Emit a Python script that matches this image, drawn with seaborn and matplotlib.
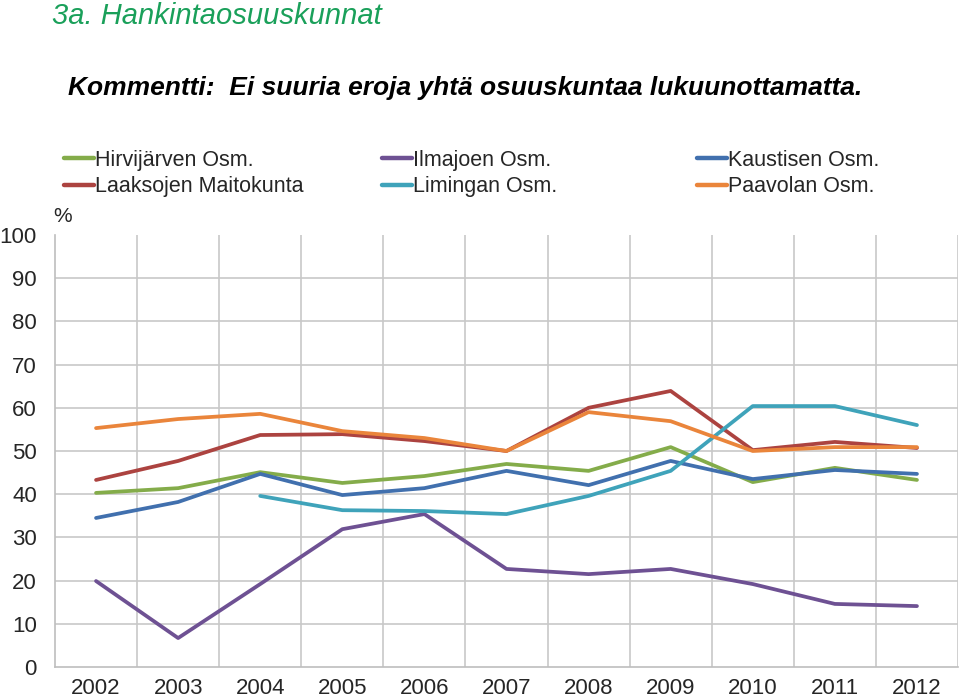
import numpy as np
import pandas as pd
import matplotlib
matplotlib.use("Agg")
import matplotlib.pyplot as plt
import seaborn as sns
from matplotlib.lines import Line2D

years = list(range(2002, 2013))
hirvijarven = [40.3, 41.4, 45.1, 42.6, 44.2, 47.0, 45.4, 50.9, 42.8, 46.1, 43.3]
ilmajoen = [19.9, 6.7, 19.2, 31.9, 35.4, 22.7, 21.5, 22.7, 19.2, 14.6, 14.1]
kaustisen = [34.5, 38.2, 44.7, 39.8, 41.4, 45.4, 42.1, 47.7, 43.5, 45.6, 44.7]
laaksojen = [43.3, 47.7, 53.7, 53.9, 52.3, 50.0, 60.0, 63.9, 50.2, 52.1, 50.7]
limingan = [np.nan, np.nan, 39.6, 36.3, 36.1, 35.4, 39.6, 45.4, 60.4, 60.4, 56.0]
paavolan = [55.3, 57.4, 58.6, 54.6, 53.0, 50.0, 59.0, 56.9, 50.0, 50.9, 50.9]

names = ["Hirvijärven Osm.", "Ilmajoen Osm.", "Kaustisen Osm.",
         "Laaksojen Maitokunta", "Limingan Osm.", "Paavolan Osm."]
series = [hirvijarven, ilmajoen, kaustisen, laaksojen, limingan, paavolan]
colors = ["#84AC4A", "#6E5193", "#4170AE", "#AC4340", "#3FA3BA", "#EA853B"]

rows = []
for n, vals in zip(names, series):
    for y, v in zip(years, vals):
        rows.append({"year": y, "value": v, "name": n})
df = pd.DataFrame(rows).dropna()

sns.set_style("white")
plt.rcParams["font.family"] = ["Liberation Sans", "DejaVu Sans"]

fig = plt.figure(figsize=(9.6, 6.98), dpi=100)
ax = fig.add_axes([55/960, 1-667/698, (958-55)/960, (667-235)/698])

sns.lineplot(data=df, x="year", y="value", hue="name", palette=dict(zip(names, colors)),
             hue_order=names, linewidth=2.7, ax=ax, legend=False, sort=True)

ax.set_xlim(2001.5, 2012.5)
ax.set_ylim(0, 100)
ax.set_xticks(years)
ax.set_xticklabels([str(y) for y in years], fontsize=16)
ax.set_yticks(range(0, 101, 10))
ax.set_yticklabels([str(v) for v in range(0, 101, 10)], fontsize=16)
ax.set_xlabel("")
ax.set_ylabel("")
ax.tick_params(axis="both", length=0)
ax.tick_params(axis="x", pad=8)
ax.tick_params(axis="y", pad=13)

for v in range(10, 100, 10):
    ax.axhline(v, color="#C8C8C8", lw=1.2, zorder=0)
for x in np.arange(2002.5, 2012.6, 1):
    ax.axvline(x, color="#C8C8C8", lw=1.2, zorder=0)

for s in ["top", "right"]:
    ax.spines[s].set_visible(False)
for s in ["left", "bottom"]:
    ax.spines[s].set_color("#BEBEBE")
    ax.spines[s].set_linewidth(1.2)

fig.text(52/960, 1-16/698, "3a. Hankintaosuuskunnat", color="#1AA05A", fontsize=21,
         style="italic", va="center", ha="left")
fig.text(68/960, 1-88/698, "Kommentti:  Ei suuria eroja yhtä osuuskuntaa lukuunottamatta.",
         color="black", fontsize=19, style="italic", weight="bold", va="center", ha="left")
fig.text(53/960, 1-217/698, "%", fontsize=15, va="center", ha="left")

col_x = [64, 382, 697]
for c in range(3):
    idx = [c, c + 3]
    handles = [Line2D([], [], color=colors[i], lw=3.2) for i in idx]
    fig.legend(handles, [names[i] for i in idx], loc="upper left",
               bbox_to_anchor=(col_x[c]/960, 1-150/698), frameon=False,
               fontsize=15.5, handlelength=1.4, handletextpad=0.05,
               labelspacing=0.25, borderaxespad=0, borderpad=0)

fig.savefig("out.png", dpi=100)
